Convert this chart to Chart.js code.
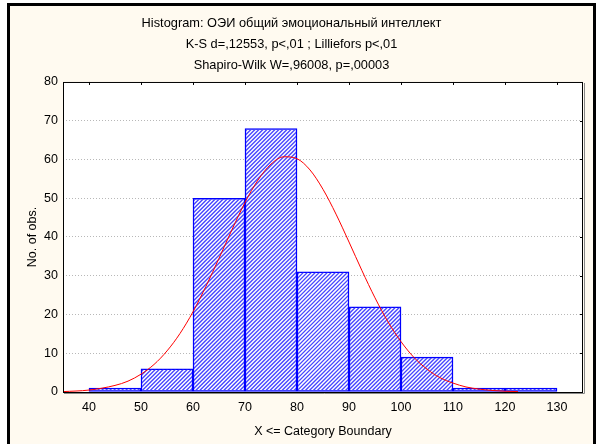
<!DOCTYPE html>
<html>
<head>
<meta charset="utf-8">
<script src="https://cdn.jsdelivr.net/npm/chart.js@4.4.0/dist/chart.umd.min.js"></script>
<style>
  body { margin: 0; background: #fff; }
  #wrap { width: 599px; height: 444px; position: relative; }
</style>
</head>
<body>
<div id="wrap"><canvas id="hist" width="599" height="444"></canvas></div>
<script>
// histogram bins (upper boundaries) and counts
const binEdges = [40, 50, 60, 70, 80, 90, 100, 110, 120, 130]
const counts = [1, 6, 50, 68, 31, 22, 9, 1, 1]

// fitted normal curve
const curveX = [35, 40, 45, 47.5, 50, 52.5, 55, 57.5, 60, 62.5, 65, 67.5, 70, 72.5, 75, 77.5,
  80, 82.5, 85, 87.5, 90, 92.5, 95, 97.5, 100, 102.5, 105, 107.5, 110, 112.5, 115, 117.5, 120, 122.5]
const curveY = [0.1, 0.5, 1.7, 2.8, 4.6, 7.1, 10.6, 15.1, 20.7, 27.3, 34.5, 41.9, 48.9, 54.7, 58.8, 60.7,
  60.2, 57.3, 52.3, 45.9, 38.7, 31.3, 24.3, 18.1, 13.0, 8.9, 5.9, 3.7, 2.3, 1.3, 0.75, 0.4, 0.2, 0.1]

const xTicks = [40, 50, 60, 70, 80, 90, 100, 110, 120, 130]
const yTicks = [0, 10, 20, 30, 40, 50, 60, 70, 80]

const titleLines = [
  'Histogram: ОЭИ общий эмоциональный интеллект',
  'K-S d=,12553, p<,01 ; Lilliefors p<,01',
  'Shapiro-Wilk W=,96008, p=,00003'
]

window.onload = function () {

  let barData = []
  for (let i = 0; i < counts.length; i++) {
    barData.push({ x: (binEdges[i] + binEdges[i + 1]) / 2, y: counts[i] })
  }
  let lineData = curveX.map((v, i) => ({ x: v, y: curveY[i] }))

  const frame = {
    id: 'frame',
    beforeDraw(chart) {
      const c = chart.ctx
      c.save()
      c.fillStyle = '#fff'
      c.fillRect(0, 0, 599, 444)
      c.fillStyle = '#fffaf0'
      c.fillRect(9, 5, 585, 445)
      c.strokeStyle = '#000'
      c.lineWidth = 3
      c.strokeRect(8.5, 4.5, 586, 450)
      const a = chart.chartArea
      c.fillStyle = '#fff'
      c.fillRect(a.left, a.top, a.right - a.left, a.bottom - a.top)
      c.restore()
    },
    // hatch each bar after the bars are drawn, before the curve
    afterDatasetDraw(chart, args) {
      if (args.index !== 1) return
      const c = chart.ctx
      c.save()
      c.strokeStyle = '#4848ff'
      c.lineWidth = 1.4
      args.meta.data.forEach(bar => {
        const left = bar.x - bar.width / 2 + 1
        const right = bar.x + bar.width / 2 - 1
        const top = bar.y + 1
        const bottom = bar.base - 1
        if (bottom <= top) return
        c.save()
        c.beginPath()
        c.rect(left, top, right - left, bottom - top)
        c.clip()
        c.beginPath()
        for (let s = left - (bottom - top) - 4; s < right + 4; s += 4) {
          c.moveTo(s, bottom + 1)
          c.lineTo(s + (bottom - top) + 2, top - 1)
        }
        c.stroke()
        c.restore()
      })
      c.restore()
    },
    afterDraw(chart) {
      const c = chart.ctx
      const a = chart.chartArea
      c.save()
      // shadow on right and bottom
      c.strokeStyle = '#888'
      c.lineWidth = 1
      c.beginPath()
      c.moveTo(a.right + 1.5, a.top + 1)
      c.lineTo(a.right + 1.5, a.bottom + 1.5)
      c.lineTo(a.left + 1, a.bottom + 1.5)
      c.stroke()
      c.strokeStyle = '#000'
      c.strokeRect(a.left + 0.5, a.top + 0.5, a.right - a.left - 1, a.bottom - a.top)
      // small inner ticks on right and top edges
      c.beginPath()
      yTicks.forEach(v => {
        const y = Math.round(chart.scales.y.getPixelForValue(v)) + 0.5
        c.moveTo(a.right - 3, y); c.lineTo(a.right, y)
      })
      xTicks.forEach(v => {
        const x = Math.round(chart.scales.x.getPixelForValue(v)) + 0.5
        c.moveTo(x, a.top); c.lineTo(x, a.top + 3)
      })
      c.stroke()
      c.restore()
    }
  }

  const font = { family: 'Liberation Sans, Arial, sans-serif', size: 12.5 }

  new Chart(document.getElementById('hist'), {
    data: {
      datasets: [{
        type: 'line',
        data: lineData,
        borderColor: '#ff0000',
        borderWidth: 1,
        pointRadius: 0,
        cubicInterpolationMode: 'monotone',
        order: 0
      }, {
        type: 'bar',
        data: barData,
        backgroundColor: '#ffffff',
        borderColor: '#0000ff',
        borderWidth: 1.5,
        borderSkipped: false,
        barPercentage: 1,
        categoryPercentage: 1,
        order: 1
      }]
    },
    options: {
      responsive: false,
      animation: false,
      layout: { padding: { left: 0, right: 16, top: 0, bottom: 0 } },
      plugins: {
        legend: { display: false },
        tooltip: { enabled: false },
        title: {
          display: true,
          text: titleLines,
          color: '#000',
          font: { family: font.family, size: 12.8, weight: 'normal', lineHeight: 1.64 },
          padding: { top: 13, bottom: 6 }
        }
      },
      scales: {
        x: {
          type: 'linear',
          offset: false,
          min: 35,
          max: 135,
          grid: { display: false, drawTicks: false },
          border: { display: false },
          ticks: { color: '#000', font: font, padding: 8, maxRotation: 0 },
          afterBuildTicks: s => { s.ticks = xTicks.map(v => ({ value: v })) },
          afterFit: s => { s.height = 52 },
          title: { display: true, text: 'X <= Category Boundary', color: '#000', font: font, padding: { top: 0, bottom: 5 } }
        },
        y: {
          min: 0,
          max: 80,
          grid: {
            drawTicks: false,
            color: ctx => (ctx.tick.value === 0 || ctx.tick.value === 80) ? 'rgba(0,0,0,0)' : '#b8b8b8'
          },
          border: { display: false, dash: [1, 2] },
          ticks: { color: '#000', font: font, padding: 5, stepSize: 10 },
          afterBuildTicks: s => { s.ticks = yTicks.map(v => ({ value: v })) },
          afterFit: s => { s.width = 63 },
          title: { display: true, text: 'No. of obs.', color: '#000', font: font, padding: { top: 25, bottom: 0 } }
        }
      }
    },
    plugins: [frame]
  })
}
</script>
</body>
</html>
